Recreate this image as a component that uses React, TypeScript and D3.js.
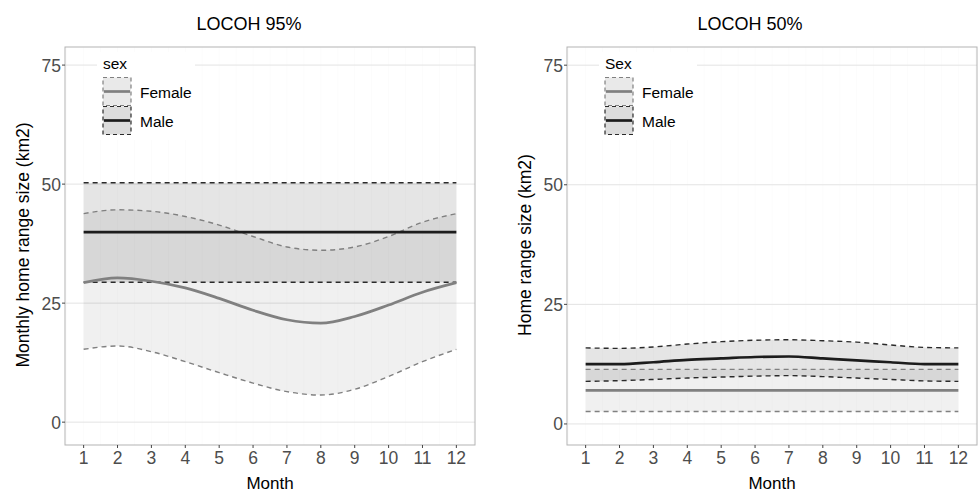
import React from "react";
import * as d3 from "d3";

// month axis
const months = [1, 2, 3, 4, 5, 6, 7, 8, 9, 10, 11, 12];
const yTicks = [0, 25, 50, 75];

// LOCOH 95% (monthly home range, km2)
const female95Mean = [29.3, 30.3, 29.6, 28.2, 26.0, 23.5, 21.5, 20.8, 22.2, 24.6, 27.3, 29.3];
const female95Lo = [15.3, 16.0, 14.8, 12.7, 10.4, 8.2, 6.4, 5.7, 6.9, 9.6, 12.7, 15.3];
const female95Hi = [43.8, 44.6, 44.3, 43.2, 41.4, 39.0, 36.8, 36.1, 36.8, 39.0, 42.0, 43.8];
const male95Mean = [39.9, 39.9, 39.9, 39.9, 39.9, 39.9, 39.9, 39.9, 39.9, 39.9, 39.9, 39.9];
const male95Lo = [29.4, 29.4, 29.4, 29.4, 29.4, 29.4, 29.4, 29.4, 29.4, 29.4, 29.4, 29.4];
const male95Hi = [50.3, 50.3, 50.3, 50.3, 50.3, 50.3, 50.3, 50.3, 50.3, 50.3, 50.3, 50.3];

// LOCOH 50%
const female50Mean = [7.0, 7.0, 7.0, 7.0, 7.0, 7.0, 7.0, 7.0, 7.0, 7.0, 7.0, 7.0];
const female50Lo = [2.6, 2.6, 2.6, 2.6, 2.6, 2.6, 2.6, 2.6, 2.6, 2.6, 2.6, 2.6];
const female50Hi = [11.4, 11.4, 11.4, 11.4, 11.4, 11.4, 11.4, 11.4, 11.4, 11.4, 11.4, 11.4];
const male50Mean = [12.5, 12.5, 12.9, 13.4, 13.7, 14.0, 14.1, 13.7, 13.3, 12.9, 12.5, 12.5];
const male50Lo = [8.9, 9.05, 9.3, 9.6, 9.8, 10.0, 10.1, 9.9, 9.6, 9.3, 9.0, 8.9];
const male50Hi = [15.9, 15.8, 16.1, 16.7, 17.2, 17.5, 17.6, 17.4, 17.1, 16.5, 16.0, 15.9];

const FONT = "'Liberation Sans', Arial, sans-serif";
const FEMALE = "#808080";
const MALE = "#1c1c1c";

type Series = { mean: number[]; lo: number[]; hi: number[] };

function Panel(props: {
  x0: number; x1: number; y0: number; y1: number; yDom: [number, number];
  title: string; titleX: number; yTitle: string; yTitleX: number; legendTitle: string;
  female: Series; male: Series;
}) {
  const { x0, x1, y0, y1, female, male } = props;
  const x = d3.scaleLinear().domain([0.45, 12.55]).range([x0, x1]);
  const y = d3.scaleLinear().domain(props.yDom).range([y1, y0]);

  const area = (s: Series) =>
    d3.area<number>()
      .x((d, i) => x(months[i]))
      .y0((d, i) => y(s.lo[i]))
      .y1((d) => y(d))
      .curve(d3.curveMonotoneX)(s.hi) || "";
  const line = d3.line<number>()
    .x((d, i) => x(months[i]))
    .y((d) => y(d))
    .curve(d3.curveMonotoneX);

  const minor = d3.range(0.5, 13, 0.5);
  const lx = x0 + 38;

  return (
    <g>
      <text x={props.titleX} y={30} textAnchor="middle" fontSize={18} fill="#000">{props.title}</text>
      {minor.map((m) => (
        <line key={"v" + m} x1={x(m)} x2={x(m)} y1={y0} y2={y1} stroke="#fcfcfc" strokeWidth={1} />
      ))}
      {yTicks.map((t) => (
        <line key={"h" + t} x1={x0} x2={x1} y1={y(t)} y2={y(t)} stroke="#e3e3e3" strokeWidth={1} />
      ))}
      <path d={area(female)} fill="#000" fillOpacity={0.06} />
      <path d={area(male)} fill="#000" fillOpacity={0.1} />
      <path d={line(female.lo) || ""} fill="none" stroke={FEMALE} strokeWidth={1.4} strokeDasharray="5,4" />
      <path d={line(female.hi) || ""} fill="none" stroke={FEMALE} strokeWidth={1.4} strokeDasharray="5,4" />
      <path d={line(male.lo) || ""} fill="none" stroke="#2a2a2a" strokeWidth={1.4} strokeDasharray="5,4" />
      <path d={line(male.hi) || ""} fill="none" stroke="#2a2a2a" strokeWidth={1.4} strokeDasharray="5,4" />
      <path d={line(female.mean) || ""} fill="none" stroke={FEMALE} strokeWidth={2.7} />
      <path d={line(male.mean) || ""} fill="none" stroke={MALE} strokeWidth={2.7} />

      {/* legend */}
      <rect x={x0 + 32} y={52} width={98} height={88} fill="#fff" />
      <text x={lx} y={68.5} fontSize={15.5} fill="#000">{props.legendTitle}</text>
      <rect x={lx} y={77.5} width={28} height={28} fill="#e9e9e9" stroke={FEMALE} strokeWidth={1.2} strokeDasharray="4,3" />
      <line x1={lx + 1} x2={lx + 27} y1={91.5} y2={91.5} stroke={FEMALE} strokeWidth={2.7} />
      <text x={lx + 37} y={97.5} fontSize={15.5} fill="#000">Female</text>
      <rect x={lx} y={106.5} width={28} height={28} fill="#dcdcdc" stroke="#2a2a2a" strokeWidth={1.2} strokeDasharray="4,3" />
      <line x1={lx + 1} x2={lx + 27} y1={120.5} y2={120.5} stroke={MALE} strokeWidth={2.7} />
      <text x={lx + 37} y={126.5} fontSize={15.5} fill="#000">Male</text>

      <rect x={x0} y={y0} width={x1 - x0} height={y1 - y0} fill="none" stroke="#b3b3b3" strokeWidth={1} />

      {yTicks.map((t) => (
        <g key={"yt" + t}>
          <line x1={x0 - 3} x2={x0} y1={y(t)} y2={y(t)} stroke="#444" strokeWidth={1} />
          <text x={x0 - 4} y={y(t) + 6.5} textAnchor="end" fontSize={17.5} fill="#4d4d4d">{t}</text>
        </g>
      ))}
      {months.map((m) => (
        <g key={"xt" + m}>
          <line x1={x(m)} x2={x(m)} y1={y1} y2={y1 + 3} stroke="#444" strokeWidth={1} />
          <text x={x(m)} y={463.5} textAnchor="middle" fontSize={17.5} fill="#4d4d4d">{m}</text>
        </g>
      ))}
      <text x={(x0 + x1) / 2} y={489} textAnchor="middle" fontSize={17} fill="#000">Month</text>
      <text
        transform={`translate(${props.yTitleX},245) rotate(-90)`}
        textAnchor="middle"
        dominantBaseline="central"
        fontSize={17.5}
        fill="#000"
      >
        {props.yTitle}
      </text>
    </g>
  );
}

export default function App() {
  return (
    <svg width={979} height={494} style={{ position: "absolute", left: 0, top: 0, background: "#fff" }} fontFamily={FONT}>
      <rect width={979} height={494} fill="#fff" />
      <Panel
        x0={65} x1={475} y0={47} y1={445} yDom={[-4.8, 78.8]}
        title="LOCOH 95%" titleX={249}
        yTitle="Monthly home range size (km2)" yTitleX={23}
        legendTitle="sex"
        female={{ mean: female95Mean, lo: female95Lo, hi: female95Hi }}
        male={{ mean: male95Mean, lo: male95Lo, hi: male95Hi }}
      />
      <Panel
        x0={567} x1={977} y0={47} y1={445} yDom={[-4.4, 78.8]}
        title="LOCOH 50%" titleX={750}
        yTitle="Home range size (km2)" yTitleX={525}
        legendTitle="Sex"
        female={{ mean: female50Mean, lo: female50Lo, hi: female50Hi }}
        male={{ mean: male50Mean, lo: male50Lo, hi: male50Hi }}
      />
    </svg>
  );
}
